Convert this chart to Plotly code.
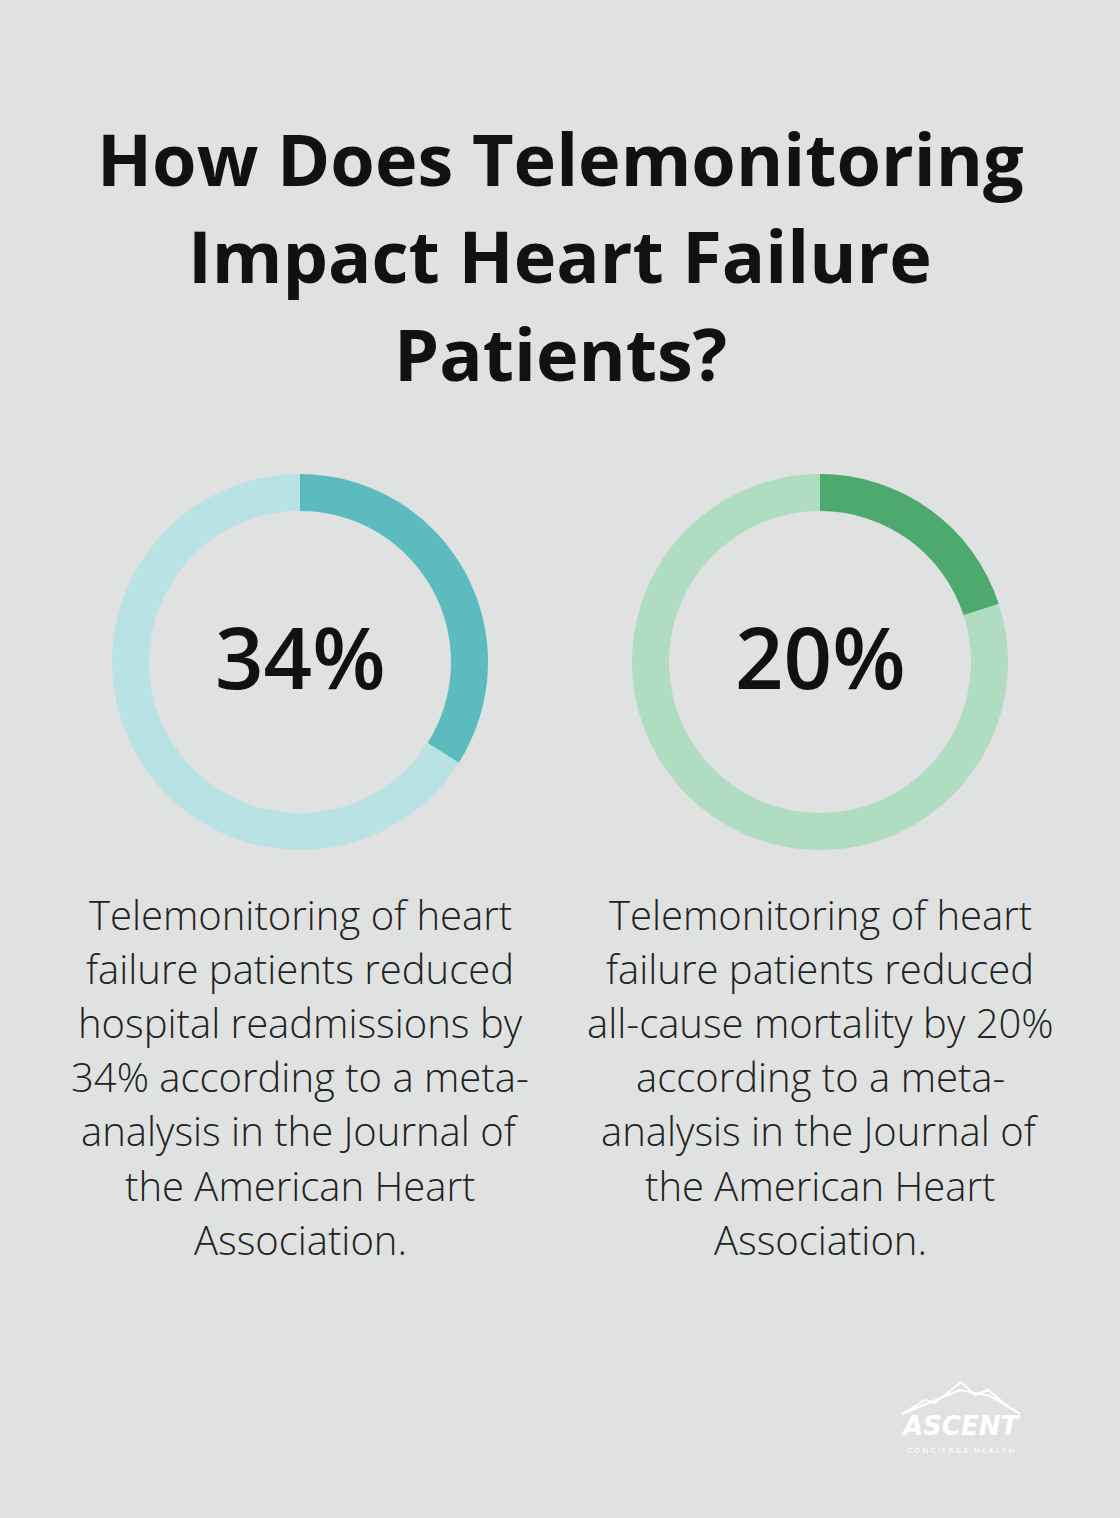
import plotly.graph_objects as go

W, H = 1120, 1518
BG = "#E0E2E1"

title_lines = ["How Does Telemonitoring", "Impact Heart Failure", "Patients?"]
values = [34, 20]
labels = ["34%", "20%"]
dark_colors = ["#5BBBBF", "#4EA96F"]
light_colors = ["#B8E2E4", "#B0DCC2"]
captions = [
    ["Telemonitoring of heart", "failure patients reduced", "hospital readmissions by",
     "34% according to a meta-", "analysis in the Journal of", "the American Heart", "Association."],
    ["Telemonitoring of heart", "failure patients reduced", "all-cause mortality by 20%",
     "according to a meta-", "analysis in the Journal of", "the American Heart", "Association."],
]

centers_x = [300, 820]
cy = 662
r_out = 188
hole = 151 / 188

def py(y):
    return 1 - y / H

def px(x):
    return x / W

fig = go.Figure()
for i, v in enumerate(values):
    cx = centers_x[i]
    fig.add_trace(go.Pie(
        values=[v, 100 - v],
        marker=dict(colors=[dark_colors[i], light_colors[i]], line=dict(width=0)),
        hole=hole, sort=False, direction="clockwise", rotation=0,
        textinfo="none", hoverinfo="skip", showlegend=False,
        domain=dict(x=[px(cx - r_out), px(cx + r_out)], y=[py(cy + r_out), py(cy - r_out)]),
    ))

ann = []
for j, t in enumerate(title_lines):
    ann.append(dict(text=t, x=0.5, y=py(158 + 97.5 * j), xref="paper", yref="paper",
                    showarrow=False, xanchor="center", yanchor="middle",
                    font=dict(family="Open Sans", size=72, color="#111111", weight=700)))
for i, lab in enumerate(labels):
    ann.append(dict(text=lab, x=px(centers_x[i]), y=py(656), xref="paper", yref="paper",
                    showarrow=False, xanchor="center", yanchor="middle",
                    font=dict(family="Open Sans", size=85, color="#111111", weight=600)))
    for k, line in enumerate(captions[i]):
        ann.append(dict(text=line, x=px(centers_x[i]), y=py(914 + 54.2 * k), xref="paper", yref="paper",
                        showarrow=False, xanchor="center", yanchor="middle",
                        font=dict(family="Open Sans", size=40, color="#222222", weight=300)))

# logo
ann.append(dict(text="<i><b>ASCENT</b></i>", x=px(960), y=py(1426), xref="paper", yref="paper",
                showarrow=False, xanchor="center", yanchor="middle",
                font=dict(family="DejaVu Sans", size=26, color="#FFFFFF")))
ann.append(dict(text="C O N C I E R G E   H E A L T H", x=px(960), y=py(1449), xref="paper", yref="paper",
                showarrow=False, xanchor="center", yanchor="middle",
                font=dict(family="Open Sans", size=8, color="#FFFFFF")))

shapes = [dict(type="path", xref="paper", yref="paper",
               path=("M {a},{b} L {c},{d} L {e},{f} L {g},{h} L {i},{j} L {k},{l} L {m},{n} L {o},{p} L {q},{r} L {s},{t} Z").format(
                   a=px(902), b=py(1414), c=px(925), d=py(1400), e=px(935), f=py(1403),
                   g=px(961), h=py(1382), i=px(975), j=py(1395), k=px(988), l=py(1390),
                   m=px(1005), n=py(1404), o=px(1020), p=py(1414), q=px(990), r=py(1396),
                   s=px(960), t=py(1390)),
               fillcolor="rgba(0,0,0,0)", line=dict(color="#FFFFFF", width=2))]

fig.update_layout(width=W, height=H, paper_bgcolor=BG, plot_bgcolor=BG,
                  margin=dict(l=0, r=0, t=0, b=0), annotations=ann, shapes=shapes)
fig.write_html("out.html", config={"displayModeBar": False},
               post_script="document.body.style.margin='0';document.body.style.background='" + BG + "';")
